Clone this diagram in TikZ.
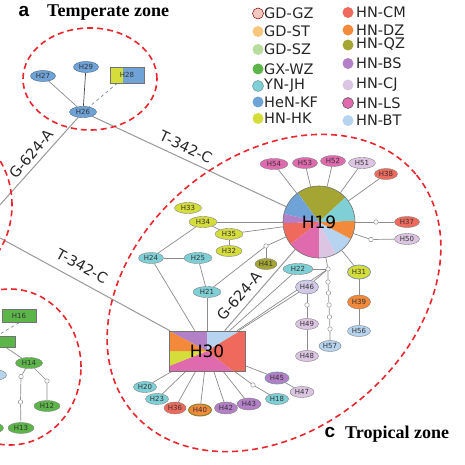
\documentclass[tikz,border=0pt]{standalone}
\usepackage{fontspec}
\setmainfont{DejaVu Sans}
\newfontfamily\titlefont{Liberation Serif}
\newfontfamily\letterfont{Liberation Sans}
\usetikzlibrary{shapes.geometric}
\pgfdeclarelayer{bg}
\pgfsetlayers{bg,main}
\definecolor{cGDGZ}{HTML}{F5C9C2}
\definecolor{cGDST}{HTML}{F8C67C}
\definecolor{cGDSZ}{HTML}{B8DB9E}
\definecolor{cGXWZ}{HTML}{5BB548}
\definecolor{cYNJH}{HTML}{7FD0D6}
\definecolor{cHeNKF}{HTML}{6FA3D8}
\definecolor{cHNHK}{HTML}{D5DD3A}
\definecolor{cHNCM}{HTML}{EF6A5C}
\definecolor{cHNDZ}{HTML}{F2893B}
\definecolor{cHNQZ}{HTML}{A5A534}
\definecolor{cHNBS}{HTML}{B37FC7}
\definecolor{cHNCJ}{HTML}{DCC5E2}
\definecolor{cHNLS}{HTML}{E06AAE}
\definecolor{cHNBT}{HTML}{B6D3EF}
\definecolor{zonered}{HTML}{E8262E}
\newcommand\piesec[6]{\fill[#6] (#1,#2) -- ++({-(#4)}:#3) arc[start angle={-(#4)}, end angle={-(#5)}, radius=#3] -- cycle;}
\begin{document}
\begin{tikzpicture}[x=1pt,y=-1pt,
  hap/.style={ellipse, draw=black!50, line width=0.4pt, inner sep=0pt, minimum width=25pt, minimum height=11pt, font=\fontsize{7}{7}\selectfont, text=black!80},
  hrect/.style={rectangle, draw=black!55, line width=0.5pt, inner sep=0pt, minimum width=34pt, minimum height=13pt, font=\fontsize{7}{7}\selectfont, text=black!80},
  mv/.style={circle, draw=black!50, fill=white, inner sep=0pt, minimum size=4.5pt, line width=0.4pt},
  lnk/.style={draw=black!45, line width=0.7pt},
  longl/.style={draw=black!40, line width=1pt},
  zone/.style={draw=zonered, line width=1.6pt, dash pattern=on 6pt off 4pt},
  elab/.style={font=\fontsize{14.5}{14.5}\selectfont, text=black!85, inner sep=0pt},
  legdot/.style={circle, inner sep=0pt, minimum size=11pt, line width=0.5pt},
  legtxt/.style={anchor=west, inner sep=0pt, font=\fontsize{14.5}{14.5}\selectfont, text=black!85}
]
\useasboundingbox (0,0) rectangle (465,465);

% titles
\node[font=\letterfont\bfseries\fontsize{19}{19}\selectfont, inner sep=0pt] (ta) at (24,11) {a};
\node[font=\titlefont\bfseries\fontsize{18}{18}\selectfont, anchor=base west, inner sep=0pt] (tt) at (47,16.5) {Temperate zone};
\node[font=\letterfont\bfseries\fontsize{19}{19}\selectfont, inner sep=0pt] (tcl) at (330,432) {c};
\node[font=\titlefont\bfseries\fontsize{18}{18}\selectfont, anchor=base west, inner sep=0pt] (tct) at (345,438.5) {Tropical zone};

% legend
\node[legdot, fill=cGDGZ, draw=red!50!black] (l1) at (258,13.5) {};
\node[legtxt] (t1) at (264,13.5) {GD-GZ};
\node[legdot, fill=cGDST] (l2) at (258,31.5) {};
\node[legtxt] (t2) at (264,31.5) {GD-ST};
\node[legdot, fill=cGDSZ] (l3) at (258,49.5) {};
\node[legtxt] (t3) at (264,49.5) {GD-SZ};
\node[legdot, fill=cGXWZ] (l4) at (258,69) {};
\node[legtxt] (t4) at (264,69) {GX-WZ};
\node[legdot, fill=cYNJH, draw=cYNJH!70!black] (l5) at (258,86) {};
\node[legtxt] (t5) at (264,86) {YN-JH};
\node[legdot, fill=cHeNKF] (l6) at (258,102) {};
\node[legtxt] (t6) at (264,102) {HeN-KF};
\node[legdot, fill=cHNHK] (l7) at (258,118.5) {};
\node[legtxt] (t7) at (264,118.5) {HN-HK};
\node[legdot, fill=cHNCM] (r1) at (348,12.5) {};
\node[legtxt] (s1) at (356,12.5) {HN-CM};
\node[legdot, fill=cHNDZ] (r2) at (348,30) {};
\node[legtxt] (s2) at (356,30) {HN-DZ};
\node[legdot, fill=cHNQZ] (r3) at (348,45) {};
\node[legtxt] (s3) at (356,44.5) {HN-QZ};
\node[legdot, fill=cHNBS] (r4) at (348,63.5) {};
\node[legtxt] (s4) at (356,63) {HN-BS};
\node[legdot, fill=cHNCJ] (r5) at (348,85) {};
\node[legtxt] (s5) at (356,85) {HN-CJ};
\node[legdot, fill=cHNLS, draw=black!70] (r6) at (348,103) {};
\node[legtxt] (s6) at (356,103) {HN-LS};
\node[legdot, fill=cHNBT] (r7) at (348,120.5) {};
\node[legtxt] (s7) at (356,120.5) {HN-BT};

% temperate cluster
\node[hap, fill=cHeNKF, draw=cHeNKF!60!black] (H27) at (43,76) {H27};
\node[hap, fill=cHeNKF, draw=cHeNKF!60!black] (H29) at (86,67) {H29};
\node[hap, fill=cHeNKF, draw=cHeNKF!60!black, minimum width=27pt] (H26) at (83,112) {H26};
\fill[cHNHK] (110,67) rectangle (123,83);
\fill[cHeNKF] (123,67) rectangle (144,83);
\node[hrect, minimum width=34pt, minimum height=16pt] (H28) at (127,75) {H28};

% lower-left cluster
\node[hrect, fill=cGXWZ] (H16) at (19,316) {H16};
\node[hrect, fill=cGXWZ, minimum width=36pt, minimum height=11pt] (H15p) at (-3,341.5) {};
\node[hap, fill=cGXWZ, minimum width=27pt] (H14) at (29,363) {H14};
\node[hap, fill=cHNBT] (Hbp) at (-6,375) {};
\node[mv] (cl1) at (21,376.5) {};
\node[mv] (cl2) at (20.5,402) {};
\node[mv] (cr) at (47,381) {};
\node[hap, fill=cGXWZ, minimum width=26pt] (H13) at (21,428) {H13};
\node[hap, fill=cGXWZ, minimum width=26pt] (H12) at (47,406) {H12};
\node[hap, fill=cGXWZ] (Hgp) at (-9,428) {};

% H19 pie
\piesec{319}{222}{36}{43}{126}{cHNQZ}
\piesec{319}{222}{36}{126}{167}{cHeNKF}
\piesec{319}{222}{36}{167}{182}{cHNBS}
\piesec{319}{222}{36}{182}{218}{cHNCM}
\piesec{319}{222}{36}{218}{270}{cHNLS}
\piesec{319}{222}{36}{270}{298}{cHNCJ}
\piesec{319}{222}{36}{298}{332}{cHNBT}
\piesec{319}{222}{36}{332}{362}{cHNDZ}
\piesec{319}{222}{36}{362}{403}{cYNJH}
\node[circle, draw=black!55, line width=0.6pt, minimum size=72pt, inner sep=0pt, font=\fontsize{17}{17}\selectfont] (H19) at (319,222) {H19};

% H30 rectangle pie
\fill[cHNBS] (207,351) -- (169,331) -- (207,331) -- cycle;
\fill[cHNBT] (207,351) -- (207,331) -- (240,331) -- cycle;
\fill[cHNCM] (207,351) -- (240,331) -- (245,331) -- (245,371) -- (233,371) -- cycle;
\fill[cHNLS] (207,351) -- (233,371) -- (169,371) -- (169,366) -- cycle;
\fill[cHNHK] (207,351) -- (169,366) -- (169,351) -- cycle;
\fill[cHNDZ] (207,351) -- (169,351) -- (169,331) -- cycle;
\node[rectangle, draw=black!55, line width=0.6pt, minimum width=76pt, minimum height=40pt, inner sep=0pt, font=\fontsize{17}{17}\selectfont] (H30) at (207,351) {H30};

% tropical nodes
\node[hap, fill=cHNLS, minimum width=28pt] (H54) at (274,164) {H54};
\node[hap, fill=cHNLS] (H53) at (305,163) {H53};
\node[hap, fill=cHNLS] (H52) at (333,161) {H52};
\node[hap, fill=cHNCJ, minimum width=27pt] (H51) at (362,163) {H51};
\node[hap, fill=cHNCM, minimum width=23pt] (H38) at (386,174) {H38};
\node[hap, fill=cHNCM] (H37) at (407,222) {H37};
\node[hap, fill=cHNCJ] (H50) at (407,239) {H50};
\node[mv] (c37) at (376,222) {};
\node[mv] (c50) at (371,239.5) {};
\node[hap, fill=cHNHK, minimum width=27pt] (H33) at (188,208) {H33};
\node[hap, fill=cHNHK, minimum width=28pt] (H34) at (203,222) {H34};
\node[hap, fill=cHNHK, minimum width=28pt] (H35) at (229,234) {H35};
\node[hap, fill=cHNHK, minimum width=26pt] (H32) at (229,251) {H32};
\node[hap, fill=cYNJH] (H24) at (151,258) {H24};
\node[hap, fill=cYNJH, minimum width=28pt] (H25) at (198,258) {H25};
\node[hap, fill=cHNQZ, minimum width=22pt] (H41) at (266,264) {H41};
\node[mv] (c41) at (266,246) {};
\node[hap, fill=cYNJH, minimum width=30pt] (H22) at (298,269) {H22};
\node[hap, fill=cYNJH, minimum width=28pt] (H21) at (207,292) {H21};
\node[mv] (c1) at (328,269) {};
\node[mv] (k1) at (328,282) {};
\node[mv] (k2) at (328.5,293) {};
\node[mv] (k3) at (329,305) {};
\node[mv] (k4) at (329.5,317) {};
\node[mv] (k5) at (330,329) {};
\node[hap, fill=cHNBT, minimum width=22pt] (H57) at (330,346) {H57};
\node[hap, fill=cHNCJ!70!cHNBT, draw=cHNBT!60!black, minimum width=23pt, minimum height=14pt] (H46) at (307,287) {H46};
\node[mv] (cm) at (307,305) {};
\node[hap, fill=cHNCJ, minimum width=23pt] (H49) at (307,324) {H49};
\node[hap, fill=cHNCJ, minimum width=23pt] (H48) at (307,356) {H48};
\node[hap, fill=cHNHK, draw=cHNBT!70!black, line width=0.8pt, minimum width=23pt, minimum height=14pt] (H31) at (359,272) {H31};
\node[hap, fill=cHNDZ, minimum width=23pt, minimum height=14pt] (H39) at (359,302) {H39};
\node[hap, fill=cHNBT, minimum width=23pt] (H56) at (359,331) {H56};
\node[hap, fill=cHNBS, draw=cHNBT!70!black, line width=0.8pt, minimum width=24pt, minimum height=12pt] (H45) at (277,378) {H45};
\node[hap, fill=cHNCJ, minimum width=24pt] (H47) at (302,392) {H47};
\node[hap, fill=cYNJH, minimum width=23pt] (H20) at (145,387) {H20};
\node[hap, fill=cYNJH, minimum width=23pt] (H23) at (157,399) {H23};
\node[hap, fill=cHNCM, minimum width=22pt, minimum height=12pt] (H36) at (175,408) {H36};
\node[hap, fill=cHNDZ, draw=cHNQZ!80!black, line width=1pt, minimum width=23pt, minimum height=12pt] (H40) at (200,410) {H40};
\node[hap, fill=cHNBS, minimum width=23pt, minimum height=12pt] (H42) at (226,408) {H42};
\node[hap, fill=cHNBS, minimum width=24pt, minimum height=12pt] (H43) at (249,404) {H43};
\node[mv] (cq) at (253,385) {};
\node[hap, fill=cYNJH, minimum width=23pt] (H18) at (277,399) {H18};

% free ends of long connectors
\coordinate (gA) at (-10,216);
\coordinate (tC) at (-10,232.5);

% edge labels
\node[elab, rotate=50] (gl1) at (31,154) {G-624-A};
\node[elab, rotate=-25] (tl1) at (186,147) {T-342-C};
\node[elab, rotate=-28.6] (tl2) at (82,266) {T-342-C};
\node[elab, rotate=49] (gl2) at (239,296) {G-624-A};

\begin{pgfonlayer}{bg}
  \fill[white] (0,0) rectangle (465,465);
  % temperate
  \draw[lnk] (H27) -- (H26);
  \draw[lnk, draw=black!70] (H29) -- (H26);
  \draw[lnk, draw=cHeNKF!50!black!70, dashed] (H28) -- (H26);
  \draw[longl] (H26) -- (gA);
  \draw[longl] (H26) -- (H19);
  \draw[longl] (tC) -- (H30);
  % lower-left
  \draw[lnk, dashed] (H16.south) -- (H15p.north);
  \draw[lnk] (H15p) -- (H14);
  \draw[lnk] (H14) -- (cl1) -- (cl2) -- (H13);
  \draw[lnk] (H14) -- (cr) -- (H12);
  % tropical
  \foreach \n in {H54,H53,H52,H51,H38,H34,H35,H31} \draw[lnk] (\n) -- (H19);
  \draw[lnk] (H19) -- (c37) -- (H37);
  \draw[lnk] (H19) -- (c50) -- (H50);
  \draw[lnk] (H34) -- (H35);
  \draw[lnk] (H35) -- (H32);
  \draw[lnk] (H24) -- (H34);
  \draw[lnk] (H24) -- (H25);
  \draw[lnk] (H24) -- (H30);
  \draw[lnk] (H25) -- (H21);
  \draw[lnk] (H21) -- (H30);
  \draw[lnk] (H21) -- (c41);
  \draw[lnk] (c41) -- (H41);
  \draw[lnk] (c41) -- (H19);
  \draw[longl] (H19) -- (H30);
  \draw[lnk] (H22) -- (H30);
  \draw[lnk] (c1) -- (H30);
  \draw[lnk] (H46) -- (H30);
  \draw[lnk] (H22) -- (c1);
  \draw[lnk] (c1) -- (H19);
  \draw[lnk] (c1) -- (k1) -- (k2) -- (k3) -- (k4) -- (k5) -- (H57);
  \draw[lnk] (H46) -- (c1);
  \draw[lnk] (H46) -- (cm) -- (H49) -- (H48);
  \draw[lnk] (H31) -- (H39) -- (H56);
  \draw[lnk] (H45) -- (H30);
  \draw[lnk] (H45) -- (H47);
  \draw[lnk] (H30) -- (cq) -- (H18);
  \foreach \n in {H20,H23,H36,H40,H42,H43} \draw[lnk] (\n) -- (H30);
  % zones
  \draw[zone] (90,79) ellipse [x radius=67pt, y radius=51pt];
  \draw[zone, rotate around={40:(274,293)}] (274,293) ellipse [x radius=185pt, y radius=137pt];
  \draw[zone] (-50,205) ellipse [x radius=62pt, y radius=75pt];
  \draw[zone] (10,367) ellipse [x radius=71pt, y radius=78pt];
\end{pgfonlayer}
\end{tikzpicture}
\end{document}
